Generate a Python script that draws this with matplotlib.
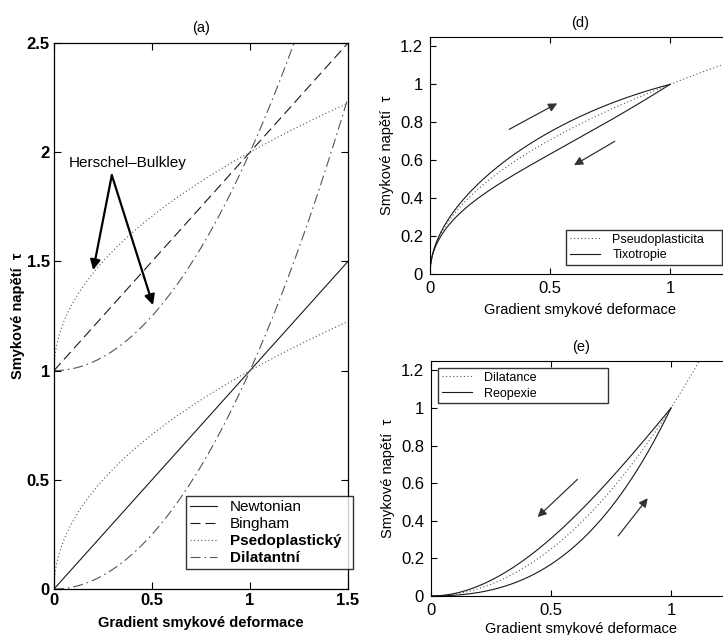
import numpy as np
import matplotlib
matplotlib.use("Agg")
import matplotlib.pyplot as plt

plt.rcParams['font.family'] = ['Liberation Sans', 'DejaVu Sans']
plt.rcParams['xtick.direction'] = 'in'
plt.rcParams['ytick.direction'] = 'in'
plt.rcParams['xtick.top'] = True
plt.rcParams['ytick.right'] = True

# ---- panel (a): flow curves tau = tau0 + k * gamma^n ----
a_models = ["Newtonian", "Bingham", "Psedoplastický", "Dilatantní"]
a_yield = [0.0, 1.0, 0.0, 0.0]
a_exponent = [1.0, 1.0, 0.5, 2.0]
hb_yield = [1.0, 1.0]
hb_exponent = [0.5, 2.0]
a_xticks = [0, 0.5, 1, 1.5]
a_yticks = [0, 0.5, 1, 1.5, 2, 2.5]

# ---- panel (d): pseudoplasticity with thixotropic hysteresis loop ----
d_base_exponent = 0.5
d_loop_amplitude = [0.17, -0.30]   # loading (upper) branch, unloading (lower) branch
d_loop_order = 1.0
d_xticks = [0, 0.5, 1]
d_yticks = [0, 0.2, 0.4, 0.6, 0.8, 1, 1.2]

# ---- panel (e): dilatancy with rheopectic hysteresis loop ----
e_base_exponent = 2.0
e_loop_amplitude = [0.45, -0.65]   # unloading (upper) branch, loading (lower) branch
e_loop_order = 2.0
e_xticks = [0, 0.5, 1]
e_yticks = [0, 0.2, 0.4, 0.6, 0.8, 1, 1.2]

fig = plt.figure(figsize=(7.23, 6.35), dpi=100)

dark = '#1a1a1a'
grey = '#555555'
dotted = (0, (1, 2.2))


def loop_branch(g, n, amp, m):
    """Power-law curve bent away from itself, closing at g=0 and g=1."""
    return g**n + amp * g**m * (1 - g)


def legend_frame(leg):
    leg.get_frame().set_linewidth(1.0)
    leg.get_frame().set_edgecolor('black')


# ================= (a) =================
axa = fig.add_axes([54/723, 1-589/635, 294/723, 546/635])
g = np.linspace(0, 1.5, 400)
styles = [dict(ls='-', color=dark, lw=0.8),
          dict(ls=(0, (9, 4.5)), color=dark, lw=0.8),
          dict(ls=dotted, color=grey, lw=0.8),
          dict(ls=(0, (9, 3.5, 1.5, 3.5)), color=grey, lw=0.8)]
for name, t0, n, st in zip(a_models, a_yield, a_exponent, styles):
    axa.plot(g, t0 + g**n, label=name, **st)
axa.plot(g, hb_yield[0] + g**hb_exponent[0], **styles[2])
axa.plot(g, hb_yield[1] + g**hb_exponent[1], **styles[3])
axa.set_xlim(0, 1.5)
axa.set_ylim(0, 2.5)
axa.set_xticks(a_xticks)
axa.set_xticklabels(['0', '0.5', '1', '1.5'])
axa.set_yticks(a_yticks)
axa.set_yticklabels(['0', '0.5', '1', '1.5', '2', '2.5'])
for lab in axa.get_xticklabels() + axa.get_yticklabels():
    lab.set_fontweight('bold')
axa.tick_params(labelsize=12, length=5, width=0.8, pad=3)
for s in axa.spines.values():
    s.set_linewidth(0.9)
axa.set_title('(a)', fontsize=10.5, pad=8)
axa.set_xlabel('Gradient smykové deformace', fontsize=10.5, fontweight='bold', labelpad=6)
axa.set_ylabel('Smykové napětí  τ', fontsize=10.5, fontweight='bold', labelpad=1)
leg = axa.legend(loc='lower left', bbox_to_anchor=(132/294, 20/546, 167/294, 73/546),
                 mode='expand', fontsize=11, frameon=True, fancybox=False,
                 handlelength=1.8, handletextpad=0.8, borderpad=0.25,
                 labelspacing=0.2, borderaxespad=0)
legend_frame(leg)
for t in leg.get_texts()[2:]:
    t.set_fontweight('bold')

axa.text(0.075, 1.95, 'Herschel–Bulkley', fontsize=11, va='center', ha='left')
arrow_kw = dict(arrowstyle='-|>', color='black', lw=1.6, mutation_scale=15,
                shrinkA=0, shrinkB=0)
axa.annotate('', xy=(0.2, 1.46), xytext=(0.295, 1.895), arrowprops=arrow_kw)
axa.annotate('', xy=(0.505, 1.3), xytext=(0.295, 1.895), arrowprops=arrow_kw)

small_arrow = dict(arrowstyle='-|>', color='#333333', lw=0.9, mutation_scale=13,
                   shrinkA=0, shrinkB=0)

# ================= (d) =================
axd = fig.add_axes([430/723, 1-274/635, 300/723, 237/635])
gd = np.linspace(0, 1.25, 400)
gl = np.linspace(0, 1, 400)
axd.plot(gd, gd**d_base_exponent, ls=dotted, color=grey, lw=0.8, label='Pseudoplasticita')
axd.plot(gl, loop_branch(gl, d_base_exponent, d_loop_amplitude[0], d_loop_order),
         color=dark, lw=0.8, label='Tixotropie')
axd.plot(gl, loop_branch(gl, d_base_exponent, d_loop_amplitude[1], d_loop_order),
         color=dark, lw=0.8)
axd.set_xlim(0, 1.25)
axd.set_ylim(0, 1.25)
axd.set_xticks(d_xticks)
axd.set_xticklabels(['0', '0.5', '1'])
axd.set_yticks(d_yticks)
axd.set_yticklabels(['0', '0.2', '0.4', '0.6', '0.8', '1', '1.2'])
axd.tick_params(labelsize=12, length=4, width=0.8, pad=5)
axd.set_title('(d)', fontsize=10.5, pad=7)
axd.set_xlabel('Gradient smykové deformace', fontsize=10.5, labelpad=5)
axd.set_ylabel('Smykové napětí  τ', fontsize=10.5, labelpad=4)
legd = axd.legend(loc='lower left', bbox_to_anchor=(136/300, 9/237, 156/300, 39/237),
                  mode='expand', fontsize=9, frameon=True, fancybox=False,
                  handlelength=2.4, handletextpad=1.0, borderpad=0.3,
                  labelspacing=0.3, borderaxespad=0)
legend_frame(legd)
axd.annotate('', xy=(0.53, 0.90), xytext=(0.33, 0.763), arrowprops=small_arrow)
axd.annotate('', xy=(0.60, 0.574), xytext=(0.77, 0.70), arrowprops=small_arrow)

# ================= (e) =================
axe = fig.add_axes([431/723, 1-596/635, 300/723, 235/635])
axe.plot(gd, gd**e_base_exponent, ls=dotted, color=grey, lw=0.8, label='Dilatance')
axe.plot(gl, loop_branch(gl, e_base_exponent, e_loop_amplitude[0], e_loop_order),
         color=dark, lw=0.8, label='Reopexie')
axe.plot(gl, loop_branch(gl, e_base_exponent, e_loop_amplitude[1], e_loop_order),
         color=dark, lw=0.8)
axe.set_xlim(0, 1.25)
axe.set_ylim(0, 1.25)
axe.set_xticks(e_xticks)
axe.set_xticklabels(['0', '0.5', '1'])
axe.set_yticks(e_yticks)
axe.set_yticklabels(['0', '0.2', '0.4', '0.6', '0.8', '1', '1.2'])
axe.tick_params(labelsize=12, length=4, width=0.8, pad=5)
axe.set_title('(e)', fontsize=10.5, pad=7)
axe.set_xlabel('Gradient smykové deformace', fontsize=10.5, labelpad=3)
axe.set_ylabel('Smykové napětí  τ', fontsize=10.5, labelpad=4)
lege = axe.legend(loc='upper left', bbox_to_anchor=(7/300, 188/235, 170/300, 40/235),
                  mode='expand', fontsize=9, frameon=True, fancybox=False,
                  handlelength=2.4, handletextpad=1.0, borderpad=0.3,
                  labelspacing=0.3, borderaxespad=0)
legend_frame(lege)
axe.annotate('', xy=(0.444, 0.42), xytext=(0.61, 0.62), arrowprops=small_arrow)
axe.annotate('', xy=(0.903, 0.52), xytext=(0.78, 0.32), arrowprops=small_arrow)

fig.savefig('out.png', dpi=100)
